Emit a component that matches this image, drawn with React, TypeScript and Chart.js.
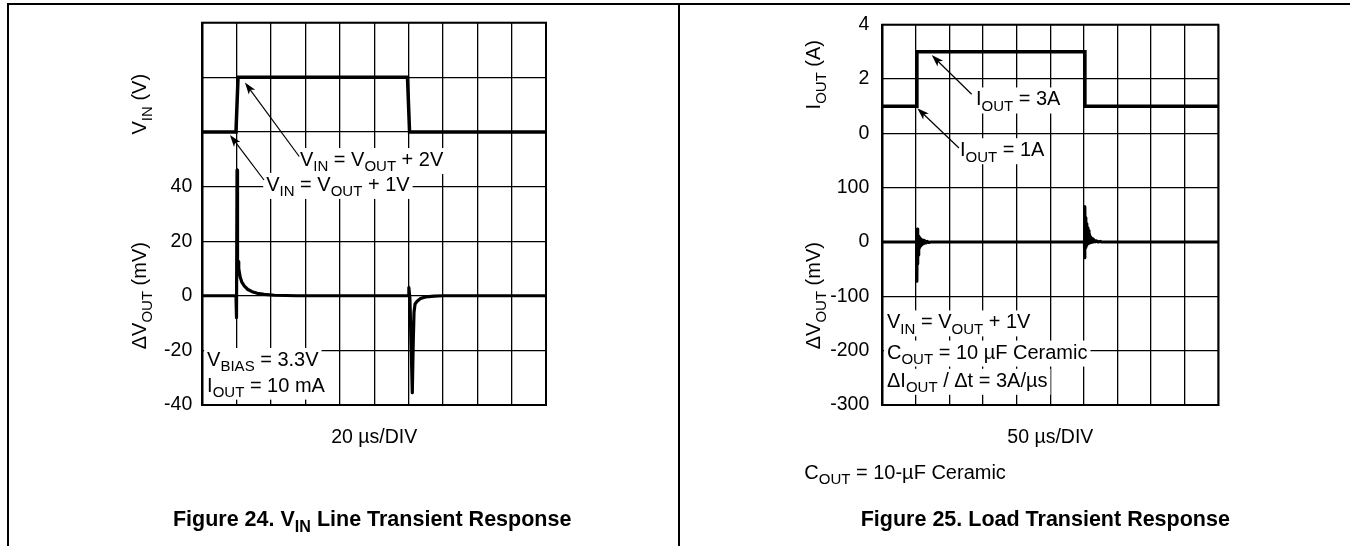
import React, { useEffect, useRef } from 'react';
import { Chart, registerables } from 'chart.js';

Chart.register(...registerables);

const FONT = '"Liberation Sans", Arial, Helvetica, sans-serif';

// ---------- Figure 24: VIN line transient (20 µs/DIV) ----------
const lineVinTimeUs = [0, 19.6, 20.8, 119.4, 120.6, 200];
const lineVinAboveVoutV = [1, 1, 2, 2, 1, 1]; // VIN - VOUT, volts
const lineDvTimeUs = [0, 19.6, 19.9, 20.2, 20.5, 20.8, 21.2, 22.0, 23.0, 24.5, 26.5, 29.0, 32.0, 36.0, 42.0, 55.0, 119.8, 120.2, 120.8, 121.6, 122.2, 122.7, 123.2, 123.8, 125.0, 127.0, 130.0, 135.0, 140.0, 200];
const lineDvMv = [0, 0, -8, 46, 8, 12.5, 10, 7, 5, 3.5, 2.3, 1.5, 0.9, 0.5, 0.2, 0, 0, 3, -1, -20, -35.5, -18, -6, -3, -2, -1, -0.4, -0.1, 0, 0];
const lineMvTicks = [-40, -20, 0, 20, 40];

// ---------- Figure 25: load transient (50 µs/DIV) ----------
const loadTimeUs = [0, 51.5, 51.5, 301.5, 301.5, 500];
const loadIoutA = [1, 1, 3, 3, 1, 1];
const loadDvTimeUs = [0, 51.0, 51.4, 51.9, 52.4, 52.9, 53.4, 53.9, 54.4, 55.0, 55.6, 56.2, 56.8, 57.5, 58.2, 59.0, 60.0, 61.0, 62.0, 63.5, 65.0, 67.0, 69.0, 72.0, 300.8, 301.0, 301.6, 302.2, 302.8, 303.4, 304.0, 304.6, 305.3, 306.0, 306.7, 307.5, 308.3, 309.2, 310.2, 311.2, 312.3, 313.5, 315.0, 317.0, 319.0, 321.0, 324.0, 327.0, 500];
const loadDvMv = [0, 0, -72, 24, -40, 16, -24, 11, -15, 8, -10, 6, -7, 5, -5, 4, -3.5, 3, -2.5, 2, -1.5, 1, -0.8, 0, 0, -29, 65, -10, 45, -6, 34, -4, 26, -3, 21, -2, 14, -1, 9, 0, 6, 0, 4, 0.5, 2, 0, 1, 0, 0];
const loadMvTicks = [-300, -200, -100, 0, 100];
const loadAmpTicks = [0, 2, 4];

const LOAD_MV_MIN = -300;
const LOAD_MV_MAX = 400;
const LOAD_A_MIN = -10;
const LOAD_A_MAX = 4;

// ---------- rich text helpers ----------
type Seg = { text: string; sub: boolean };
function parseRich(s: string): Seg[] {
  const segs: Seg[] = [];
  const re = /_\{([^}]*)\}/g;
  let last = 0;
  let m: RegExpExecArray | null;
  while ((m = re.exec(s))) {
    if (m.index > last) segs.push({ text: s.slice(last, m.index), sub: false });
    segs.push({ text: m[1], sub: true });
    last = re.lastIndex;
  }
  if (last < s.length) segs.push({ text: s.slice(last), sub: false });
  return segs;
}
function fontStr(size: number, bold?: boolean) {
  return `${bold ? 'bold ' : ''}${size}px ${FONT}`;
}
function richWidth(ctx: CanvasRenderingContext2D, segs: Seg[], size: number, bold?: boolean) {
  let w = 0;
  for (const sg of segs) {
    ctx.font = fontStr(sg.sub ? size * 0.75 : size, bold);
    w += ctx.measureText(sg.text).width;
  }
  return w;
}
function drawRich(
  ctx: CanvasRenderingContext2D,
  s: string,
  x: number,
  baseline: number,
  size: number,
  opts: { bold?: boolean; align?: 'left' | 'center'; bg?: boolean } = {}
) {
  const segs = parseRich(s);
  const w = richWidth(ctx, segs, size, opts.bold);
  let x0 = opts.align === 'center' ? x - w / 2 : x;
  if (opts.bg) {
    ctx.fillStyle = '#fff';
    ctx.fillRect(x0 - 3, baseline - size * 0.9, w + 6, size * 1.3);
    return;
  }
  ctx.fillStyle = '#000';
  ctx.textAlign = 'left';
  ctx.textBaseline = 'alphabetic';
  for (const sg of segs) {
    const sz = sg.sub ? size * 0.75 : size;
    ctx.font = fontStr(sz, opts.bold);
    ctx.fillText(sg.text, x0, baseline + (sg.sub ? size * 0.27 : 0));
    x0 += ctx.measureText(sg.text).width;
  }
}
function drawArrow(ctx: CanvasRenderingContext2D, x1: number, y1: number, x2: number, y2: number) {
  const ang = Math.atan2(y2 - y1, x2 - x1);
  const L = 12;
  const W = 4;
  const c = Math.cos(ang);
  const s = Math.sin(ang);
  ctx.strokeStyle = '#000';
  ctx.lineWidth = 1.2;
  ctx.beginPath();
  ctx.moveTo(x1, y1);
  ctx.lineTo(x2 - c * L * 0.7, y2 - s * L * 0.7);
  ctx.stroke();
  ctx.fillStyle = '#000';
  ctx.beginPath();
  ctx.moveTo(x2, y2);
  ctx.lineTo(x2 - c * L - s * W, y2 - s * L + c * W);
  ctx.lineTo(x2 - c * L * 0.75, y2 - s * L * 0.75);
  ctx.lineTo(x2 - c * L + s * W, y2 - s * L - c * W);
  ctx.closePath();
  ctx.fill();
}

type Note = { text: string; x: number; y: number };
type ArrowSpec = { fromX: number; fromY: number; toX: number; toY: number };
type YTitle = { text: string; dx: number; dy: number };
type TextSpec = { text: string; anchor: 'left' | 'center'; dx: number; dy: number; size: number; bold?: boolean };
type Decor = { notes: Note[]; arrows: ArrowSpec[]; yTitles: YTitle[]; texts: TextSpec[] };

const NOTE_SIZE = 20;

function decorPlugin(spec: Decor): any {
  return {
    id: 'decor',
    beforeDatasetsDraw(chart: any) {
      const { ctx, chartArea: a, scales } = chart;
      const xs = scales.x;
      const ys = scales.y;
      ctx.save();
      for (const n of spec.notes)
        drawRich(ctx, n.text, xs.getPixelForValue(n.x), ys.getPixelForValue(n.y), NOTE_SIZE, { bg: true });
      for (const n of spec.notes)
        drawRich(ctx, n.text, xs.getPixelForValue(n.x), ys.getPixelForValue(n.y), NOTE_SIZE);
      for (const ar of spec.arrows)
        drawArrow(
          ctx,
          xs.getPixelForValue(ar.fromX),
          ys.getPixelForValue(ar.fromY),
          xs.getPixelForValue(ar.toX),
          ys.getPixelForValue(ar.toY)
        );
      ctx.strokeStyle = '#000';
      ctx.lineWidth = 2;
      ctx.strokeRect(a.left, a.top, a.right - a.left, a.bottom - a.top);
      ctx.restore();
    },
    afterDraw(chart: any) {
      const { ctx, chartArea: a } = chart;
      ctx.save();
      for (const t of spec.yTitles) {
        ctx.save();
        ctx.translate(a.left + t.dx, a.top + t.dy);
        ctx.rotate(-Math.PI / 2);
        drawRich(ctx, t.text, 0, 7, 20, { align: 'center' });
        ctx.restore();
      }
      const cx = (a.left + a.right) / 2;
      for (const t of spec.texts) {
        const x = t.anchor === 'center' ? cx + t.dx : a.left + t.dx;
        drawRich(ctx, t.text, x, a.bottom + t.dy, t.size, { bold: t.bold, align: t.anchor === 'center' ? 'center' : 'left' });
      }
      ctx.restore();
    },
  };
}

const gridOpts = { color: '#000', lineWidth: 1.3, drawTicks: false };
const borderOpts = { display: true, color: '#000', width: 2 };

function pts(xs: number[], ys: number[]) {
  return xs.map((x, i) => ({ x, y: ys[i] }));
}

function buildLineChart(canvas: HTMLCanvasElement) {
  const decor: Decor = {
    notes: [
      { text: 'V_{IN} = V_{OUT} + 2V', x: 56.8, y: 47.5 },
      { text: 'V_{IN} = V_{OUT} + 1V', x: 37.2, y: 38.4 },
      { text: 'V_{BIAS} = 3.3V', x: 2.8, y: -25.7 },
      { text: 'I_{OUT} = 10 mA', x: 2.8, y: -35.1 },
    ],
    arrows: [
      { fromX: 56.4, fromY: 51, toX: 24.8, toY: 78.1 },
      { fromX: 35.9, fromY: 42.4, toX: 16.1, toY: 58.9 },
    ],
    yTitles: [
      { text: 'V_{IN} (V)', dx: -63, dy: 81.5 },
      { text: 'ΔV_{OUT} (mV)', dx: -63, dy: 273 },
    ],
    texts: [
      { text: '20 µs/DIV', anchor: 'center', dx: 0, dy: 38, size: 19.5 },
      { text: 'Figure 24. V_{IN} Line Transient Response', anchor: 'center', dx: -2, dy: 121, size: 21.5, bold: true },
    ],
  };
  return new Chart(canvas, {
    type: 'line',
    data: {
      datasets: [
        {
          data: pts(lineVinTimeUs, lineVinAboveVoutV),
          yAxisID: 'y2',
          borderColor: '#000',
          borderWidth: 3.5,
          pointRadius: 0,
          tension: 0,
          fill: false,
          borderJoinStyle: 'miter',
        },
        {
          data: pts(lineDvTimeUs, lineDvMv),
          yAxisID: 'y',
          borderColor: '#000',
          borderWidth: 3.2,
          pointRadius: 0,
          tension: 0,
          fill: false,
          borderJoinStyle: 'round',
        },
      ],
    } as any,
    options: {
      responsive: false,
      animation: false,
      events: [],
      layout: { autoPadding: false, padding: { left: 102.3, right: 133, top: 22.7, bottom: 141 } },
      plugins: { legend: { display: false }, tooltip: { enabled: false }, title: { display: false } },
      scales: {
        x: {
          type: 'linear',
          min: 0,
          max: 200,
          ticks: { display: false, stepSize: 20 },
          grid: gridOpts,
          border: borderOpts,
          afterFit: (s: any) => {
            s.height = 0;
          },
        },
        y: {
          type: 'linear',
          position: 'left',
          min: -40,
          max: 100,
          ticks: {
            stepSize: 20,
            autoSkip: false,
            color: '#000',
            padding: 10,
            font: { family: FONT, size: 19.5 },
            callback: (v: any) => (lineMvTicks.includes(Number(v)) ? String(v) : ''),
          },
          grid: gridOpts,
          border: borderOpts,
          afterFit: (s: any) => {
            s.width = 100;
          },
        },
        y2: { type: 'linear', display: false, min: -4, max: 3 },
      },
    } as any,
    plugins: [decorPlugin(decor)],
  });
}

function ampAtMv(mv: number) {
  return LOAD_A_MIN + ((mv - LOAD_MV_MIN) * (LOAD_A_MAX - LOAD_A_MIN)) / (LOAD_MV_MAX - LOAD_MV_MIN);
}

function buildLoadChart(canvas: HTMLCanvasElement) {
  const decor: Decor = {
    notes: [
      { text: 'I_{OUT} = 3A', x: 139.4, y: 251.3 },
      { text: 'I_{OUT} = 1A', x: 115.6, y: 157.9 },
      { text: 'V_{IN} = V_{OUT} + 1V', x: 7, y: -159 },
      { text: 'C_{OUT} = 10 µF Ceramic', x: 7, y: -214.5 },
      { text: 'ΔI_{OUT} / Δt = 3A/µs', x: 7, y: -266.5 },
    ],
    arrows: [
      { fromX: 133, fromY: 272, toX: 73.5, toY: 344 },
      { fromX: 114.1, fromY: 173, toX: 52.1, toY: 246.3 },
    ],
    yTitles: [
      { text: 'I_{OUT} (A)', dx: -69, dy: 50 },
      { text: 'ΔV_{OUT} (mV)', dx: -69, dy: 271 },
    ],
    texts: [
      { text: '50 µs/DIV', anchor: 'center', dx: 0, dy: 38, size: 19.5 },
      { text: 'C_{OUT} = 10-µF Ceramic', anchor: 'left', dx: -78, dy: 74, size: 20 },
      { text: 'Figure 25. Load Transient Response', anchor: 'center', dx: -5, dy: 121, size: 21.5, bold: true },
    ],
  };
  return new Chart(canvas, {
    type: 'line',
    data: {
      datasets: [
        {
          data: pts(loadTimeUs, loadIoutA),
          yAxisID: 'y2',
          borderColor: '#000',
          borderWidth: 3.5,
          pointRadius: 0,
          tension: 0,
          fill: false,
          borderJoinStyle: 'miter',
        },
        {
          data: pts(loadDvTimeUs, loadDvMv),
          yAxisID: 'y',
          borderColor: '#000',
          borderWidth: 3.2,
          pointRadius: 0,
          tension: 0,
          fill: false,
          borderJoinStyle: 'round',
        },
      ],
    } as any,
    options: {
      responsive: false,
      animation: false,
      events: [],
      layout: { autoPadding: false, padding: { left: 103.3, right: 132.7, top: 22.7, bottom: 141 } },
      plugins: { legend: { display: false }, tooltip: { enabled: false }, title: { display: false } },
      scales: {
        x: {
          type: 'linear',
          min: 0,
          max: 500,
          ticks: { display: false, stepSize: 50 },
          grid: gridOpts,
          border: borderOpts,
          afterFit: (s: any) => {
            s.height = 0;
          },
        },
        y: {
          type: 'linear',
          position: 'left',
          min: LOAD_MV_MIN,
          max: LOAD_MV_MAX,
          ticks: {
            stepSize: 100,
            autoSkip: false,
            color: '#000',
            padding: 13,
            font: { family: FONT, size: 19.5 },
            callback: (v: any) => {
              const mv = Number(v);
              if (loadMvTicks.includes(mv)) return String(mv);
              const a = Math.round(ampAtMv(mv) * 1000) / 1000;
              if (mv > 100 && loadAmpTicks.includes(a)) return String(a);
              return '';
            },
          },
          grid: gridOpts,
          border: borderOpts,
          afterFit: (s: any) => {
            s.width = 100;
          },
        },
        y2: { type: 'linear', display: false, min: LOAD_A_MIN, max: LOAD_A_MAX },
      },
    } as any,
    plugins: [decorPlugin(decor)],
  });
}

export default function App() {
  const leftRef = useRef<HTMLCanvasElement>(null);
  const rightRef = useRef<HTMLCanvasElement>(null);
  useEffect(() => {
    const c1 = buildLineChart(leftRef.current!);
    const c2 = buildLoadChart(rightRef.current!);
    return () => {
      c1.destroy();
      c2.destroy();
    };
  }, []);
  return (
    <div style={{ position: 'absolute', left: 0, top: 0, width: 1351, height: 546, background: '#fff', overflow: 'hidden' }}>
      <canvas ref={leftRef} width={679} height={546} style={{ position: 'absolute', left: 0, top: 0, width: 679, height: 546 }} />
      <canvas ref={rightRef} width={672} height={546} style={{ position: 'absolute', left: 679, top: 0, width: 672, height: 546 }} />
      <div style={{ position: 'absolute', left: 7, top: 3, width: 1343, height: 2, background: '#000' }} />
      <div style={{ position: 'absolute', left: 7, top: 3, width: 2, height: 543, background: '#000' }} />
      <div style={{ position: 'absolute', left: 678.3, top: 3, width: 2, height: 543, background: '#000' }} />
    </div>
  );
}
